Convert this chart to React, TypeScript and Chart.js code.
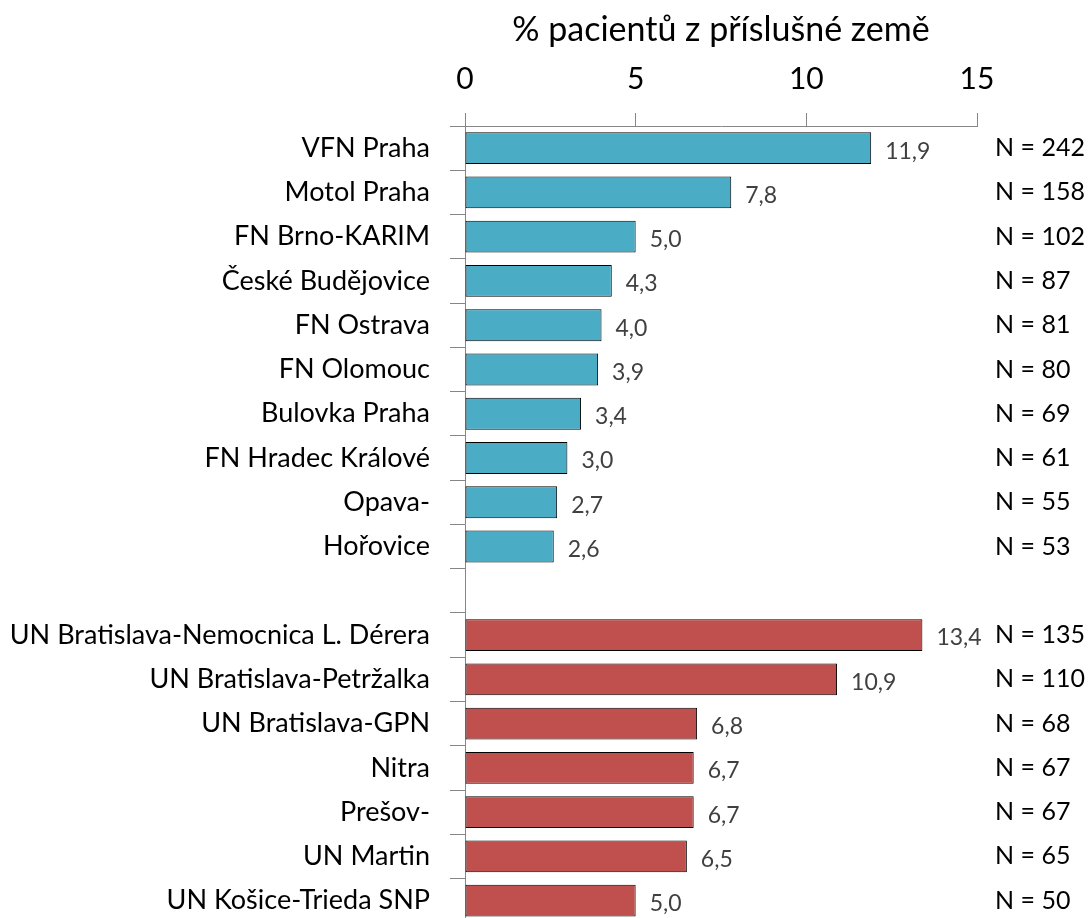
import React, { useEffect, useRef } from "react";
import { Chart, registerables } from "chart.js";

Chart.register(...registerables);

const categories = [
  "VFN Praha",
  "Motol Praha",
  "FN Brno-KARIM",
  "České Budějovice",
  "FN Ostrava",
  "FN Olomouc",
  "Bulovka Praha",
  "FN Hradec Králové",
  "Opava-",
  "Hořovice",
  "",
  "UN Bratislava-Nemocnica L. Dérera",
  "UN Bratislava-Petržalka",
  "UN Bratislava-GPN",
  "Nitra",
  "Prešov-",
  "UN Martin",
  "UN Košice-Trieda SNP",
];

const values: (number | null)[] = [
  11.9, 7.8, 5.0, 4.3, 4.0, 3.9, 3.4, 3.0, 2.7, 2.6,
  null,
  13.4, 10.9, 6.8, 6.7, 6.7, 6.5, 5.0,
];

const nLabels = [
  "N = 242", "N = 158", "N = 102", "N = 87", "N = 81", "N = 80", "N = 69", "N = 61", "N = 55", "N = 53",
  "",
  "N = 135", "N = 110", "N = 68", "N = 67", "N = 67", "N = 65", "N = 50",
];

const groups = ["cz", "cz", "cz", "cz", "cz", "cz", "cz", "cz", "cz", "cz", "", "sk", "sk", "sk", "sk", "sk", "sk", "sk"];

const xTicks = [0, 5, 10, 15];
const axisTitle = "% pacientů z příslušné země";

const FONT = "Lato, 'Open Sans', sans-serif";
const COLORS: Record<string, string> = { cz: "#4BACC6", sk: "#C0504D", "": "#ffffff" };

export default function App() {
  const ref = useRef<HTMLCanvasElement>(null);

  useEffect(() => {
    if (!ref.current) return;
    const labelPlugin = {
      id: "sideLabels",
      afterDatasetsDraw(chart: any) {
        const ctx = chart.ctx;
        const meta = chart.getDatasetMeta(0);
        const area = chart.chartArea;
        ctx.save();
        ctx.textBaseline = "middle";
        meta.data.forEach((bar: any, i: number) => {
          const v = values[i];
          if (v === null || v === undefined) return;
          ctx.font = `23px ${FONT}`;
          ctx.fillStyle = "#404040";
          ctx.textAlign = "left";
          ctx.fillText(v.toFixed(1).replace(".", ","), bar.x + 14, bar.y + 3);
          ctx.font = `25px ${FONT}`;
          ctx.fillStyle = "#000000";
          ctx.fillText(nLabels[i], area.right + 18, bar.y);
        });
        ctx.restore();
      },
    };

    const chart = new Chart(ref.current, {
      type: "bar",
      data: {
        labels: categories,
        datasets: [
          {
            data: values,
            backgroundColor: groups.map((g) => COLORS[g]),
            borderColor: "#000000",
            borderWidth: 1,
            borderSkipped: false,
            barPercentage: 0.72,
            categoryPercentage: 1,
          },
        ],
      },
      options: {
        indexAxis: "y",
        animation: false,
        responsive: false,
        maintainAspectRatio: false,
        layout: { padding: { top: 0, right: 113, bottom: 0, left: 0 } },
        plugins: { legend: { display: false }, tooltip: { enabled: false } },
        scales: {
          x: {
            position: "top",
            min: 0,
            max: 15,
            afterBuildTicks: (scale: any) => {
              scale.ticks = xTicks.map((v) => ({ value: v }));
            },
            afterFit: (scale: any) => {
              scale.height = 126;
            },
            ticks: {
              font: { size: 30, family: FONT },
              color: "#000000",
              padding: 16,
            },
            grid: {
              drawOnChartArea: false,
              drawTicks: true,
              tickLength: 13,
              color: "#868686",
            },
            border: { display: true, color: "#868686", width: 1 },
            title: {
              display: true,
              text: axisTitle,
              font: { size: 34, family: FONT },
              color: "#000000",
              padding: { top: 10, bottom: 0 },
            },
          },
          y: {
            afterFit: (scale: any) => {
              scale.width = 465;
            },
            ticks: {
              font: { size: 27, family: FONT },
              color: "#000000",
              padding: 20,
              autoSkip: false,
            },
            grid: {
              drawOnChartArea: false,
              drawTicks: true,
              tickLength: 15,
              offset: true,
              color: "#868686",
            },
            border: { display: true, color: "#868686", width: 1 },
          },
        },
      },
      plugins: [labelPlugin],
    } as any);
    return () => chart.destroy();
  }, []);

  return (
    <div style={{ position: "absolute", left: 0, top: 0, width: 1090, height: 959, background: "#fff" }}>
      <canvas ref={ref} width={1090} height={959} style={{ display: "block" }} />
    </div>
  );
}
